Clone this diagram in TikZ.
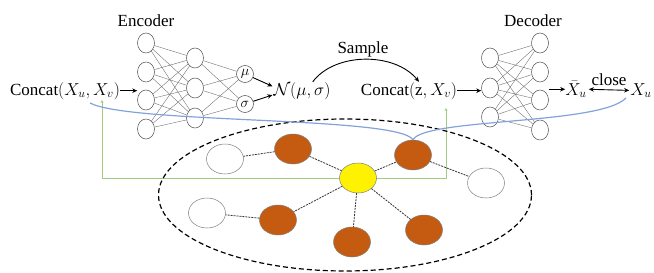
\documentclass[tikz,border=0pt]{standalone}
\usepackage{fontspec}
\setmainfont{Liberation Serif}
\usetikzlibrary{shapes.geometric,arrows.meta}

\definecolor{rust}{RGB}{197,90,17}
\definecolor{linkblue}{RGB}{132,162,218}
\definecolor{linkgreen}{RGB}{160,205,130}

\begin{document}
\begin{tikzpicture}[x=1pt, y=-1pt,
    neuron/.style={draw=black!70, ellipse, minimum width=17pt, minimum height=20pt, inner sep=0pt, line width=0.5pt},
    latent/.style={draw=black!70, circle, minimum size=17pt, inner sep=0pt, line width=0.5pt, font=\fontsize{14}{14}\selectfont},
    wire/.style={draw=black!60, line width=0.35pt},
    txt/.style={font=\fontsize{17}{20}\selectfont, inner sep=0pt, anchor=base},
    flow/.style={-{Stealth[length=5pt,width=4.5pt]}, line width=0.9pt},
    gnode/.style={ellipse, minimum width=37pt, minimum height=30pt, draw=black!50, line width=0.5pt},
    gedge/.style={line width=0.8pt, dash pattern=on 2pt off 1pt, black!80},
    link/.style={draw=linkblue, line width=1.2pt}
]
    \useasboundingbox (0,0) rectangle (654,273);

    % Green feedback line
    \coordinate (gl) at (102,100);
    \coordinate (gr) at (446,108);
    \draw[linkgreen, line width=1pt, {Stealth[length=3pt,width=3pt]}-{Stealth[length=3pt,width=3pt]}]
        (gl) -- ++(0,78) -| (gr);

    % Encoder
    \node[txt] (enc) at (146,27) {Encoder};
    \foreach \i/\y in {1/43,2/72,3/100,4/129}
        \node[neuron] (e1\i) at (146,\y) {};
    \foreach \i/\y in {1/58,2/88,3/118}
        \node[neuron] (e2\i) at (195,\y) {};
    \node[latent] (mu) at (245,74) {$\mu$};
    \node[latent] (sigma) at (245,104) {$\sigma$};
    \foreach \i in {1,...,4}
        \foreach \j in {1,2,3}
            \draw[wire] (e1\i) -- (e2\j);
    \foreach \j in {1,2,3}
        \foreach \k in {mu,sigma}
            \draw[wire] (e2\j) -- (\k);

    % Decoder
    \node[txt] (dec) at (533,27) {Decoder};
    \foreach \i/\y in {1/58,2/88,3/117}
        \node[neuron] (d1\i) at (490,\y) {};
    \foreach \i/\y in {1/43,2/72,3/100,4/130}
        \node[neuron] (d2\i) at (540,\y) {};
    \foreach \i in {1,2,3}
        \foreach \j in {1,...,4}
            \draw[wire] (d1\i) -- (d2\j);

    % Texts
    \node[txt] (cat1) at (65,95) {Concat$(X_u,X_v)$};
    \node[txt] (norm) at (302,95) {$\mathcal{N}(\mu,\sigma)$};
    \node[txt] (cat2) at (409,95) {Concat$(\mathrm{z},X_v)$};
    \node[txt] (xbar) at (576,95) {$\bar{X}_u$};
    \node[txt] (xu) at (641,95) {$X_u$};
    \node[txt] (smp) at (363,53) {Sample};

    % Arrows
    \draw[flow] (cat1.east) -- (cat1.east -| e12.west);
    \draw[flow, shorten >=1pt] (mu) -- ([yshift=4pt]norm.west);
    \draw[flow, shorten >=1pt] (sigma) -- ([yshift=-4pt]norm.west);
    \draw[flow] ([xshift=-18pt]norm.north east) .. controls (335,52) and (395,52) .. ([xshift=10pt]cat2.north);
    \draw[flow] (cat2.east) -- (cat2.east -| d12.west);
    \draw[flow] (xbar.west -| d22.east) -- (xbar.west);
    \draw[{Stealth[length=5pt,width=4.5pt]}-{Stealth[length=5pt,width=4.5pt]}, line width=0.9pt]
        ([xshift=2pt]xbar.east) -- node[above=4pt, inner sep=0pt, font=\fontsize{17}{20}\selectfont] (cls) {close} ([xshift=-1pt]xu.west);

    % Graph
    \node[draw, ellipse, dash pattern=on 5pt off 3pt, line width=1.2pt, minimum width=373pt, minimum height=152pt] (graph) at (345,195) {};
    \node[gnode, fill=yellow] (hub) at (358,178) {};
    \node[gnode, fill=rust] (tl) at (293,149) {};
    \node[gnode, fill=white] (wtl) at (225,159) {};
    \node[gnode, fill=rust] (tr) at (413,155) {};
    \node[gnode, fill=white] (wr) at (486,183) {};
    \node[gnode, fill=white] (wll) at (207,213) {};
    \node[gnode, fill=rust] (ll) at (278,220) {};
    \node[gnode, fill=rust] (bt) at (352,242) {};
    \node[gnode, fill=rust] (lr) at (424,230) {};

    \draw[gedge] (hub) -- (tl);
    \draw[gedge] (tl) -- (wtl);
    \draw[gedge] (hub) -- (tr);
    \draw[gedge] (tr) -- (wr);
    \draw[gedge] (hub) -- (ll);
    \draw[gedge] (ll) -- (wll);
    \draw[gedge] (hub) -- (bt);
    \draw[gedge] (hub) -- (lr);

    % Blue links
    \coordinate (bl) at (90,103);
    \coordinate (br) at (626,98);
    \draw[link] (tr.north) .. controls (398,116) and (130,124) .. (bl);
    \draw[link] (tr.north) .. controls (425,118) and (600,125) .. (br);

\end{tikzpicture}
\end{document}
